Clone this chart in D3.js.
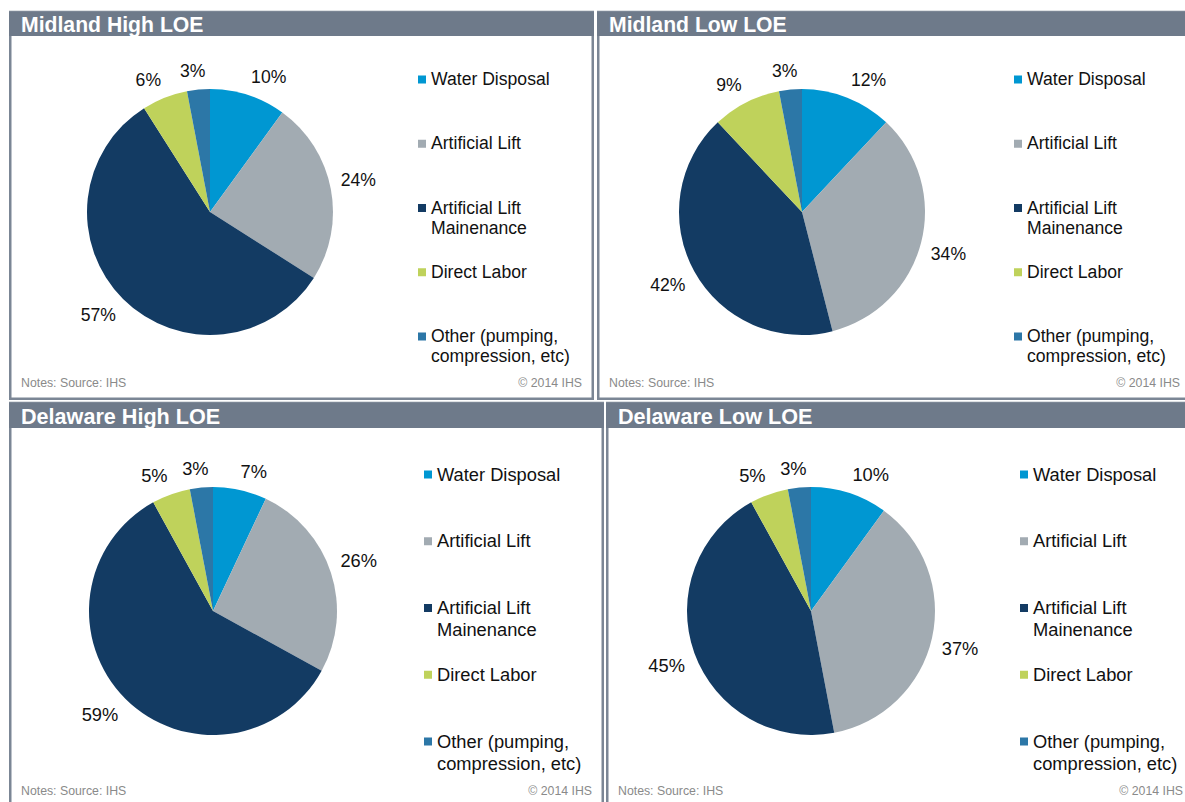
<!DOCTYPE html>
<html>
<head>
<meta charset="utf-8">
<script src="https://cdn.jsdelivr.net/npm/d3@7"></script>
<style>
  body { margin: 0; background: #ffffff; }
  svg { display: block; font-family: "Liberation Sans", Arial, sans-serif; }
</style>
</head>
<body>
<div id="chart"></div>
<script>
// categories, in drawing order (clockwise from 12 o'clock)
const categories = ["Water Disposal", "Artificial Lift", "Artificial Lift Mainenance", "Direct Labor", "Other (pumping, compression, etc)"];
const legendLines = [["Water Disposal"], ["Artificial Lift"], ["Artificial Lift", "Mainenance"], ["Direct Labor"], ["Other (pumping,", "compression, etc)"]];
const sliceColors = ["#0097d2", "#a2abb2", "#133b63", "#bfd25b", "#2c77a7"];

// series values (percent)
const titles = ["Midland High LOE", "Midland Low LOE", "Delaware High LOE", "Delaware Low LOE"];
const midlandHigh = [10, 24, 57, 6, 3];
const midlandLow = [12, 34, 42, 9, 3];
const delawareHigh = [7, 26, 59, 5, 3];
const delawareLow = [10, 37, 45, 5, 3];
const seriesList = [midlandHigh, midlandLow, delawareHigh, delawareLow];

const noteText = "Notes: Source: IHS";
const copyText = "\u00a9 2014 IHS";

const width = 1185, height = 802;
const barColor = "#6e7a8a";
const borderColor = "#7b8695";

// panel layout
const panels = [
  {x: 9,   y: 12,  w: 585, h: 388, bar: 24, cx: 210, cy: 212, r: 123, legX: 431,  legY: 79,  step: 64.25, lineH: 20, fs: 17.6, tfs: 21.2, noteY: 387, copyR: 582},
  {x: 597, y: 12,  w: 595, h: 388, bar: 24, cx: 802, cy: 212, r: 123, legX: 1027, legY: 79,  step: 64.25, lineH: 20, fs: 17.6, tfs: 21.2, noteY: 387, copyR: 1180},
  {x: 9,   y: 403, w: 595, h: 420, bar: 25, cx: 213, cy: 611, r: 124, legX: 437,  legY: 474, step: 66.75, lineH: 22, fs: 18.3, tfs: 21.6, noteY: 795, copyR: 592},
  {x: 606, y: 403, w: 594, h: 420, bar: 25, cx: 811, cy: 611, r: 124, legX: 1033, legY: 474, step: 66.75, lineH: 22, fs: 18.3, tfs: 21.6, noteY: 795, copyR: 1183}
];

const svg = d3.select("#chart")
  .append("svg")
    .attr("width", width)
    .attr("height", height)
    .attr("viewBox", `0 0 ${width} ${height}`);

const pie = d3.pie().sort(null).value(d => d);
const clamp = v => Math.max(-1, Math.min(1, v));

panels.forEach(function(p, k) {
  const g = svg.append("g");

  // frame
  g.append("rect")
    .attr("x", p.x + 1.25)
    .attr("y", p.y)
    .attr("width", p.w - 2.5)
    .attr("height", p.h - 1.25)
    .attr("fill", "#ffffff")
    .attr("stroke", borderColor)
    .attr("stroke-width", 2.5);

  // title bar
  g.append("rect")
    .attr("x", p.x)
    .attr("y", p.y)
    .attr("width", p.w)
    .attr("height", p.bar)
    .attr("fill", barColor);
  g.append("text")
    .attr("x", p.x + 12)
    .attr("y", p.y + p.bar - 4.5)
    .attr("fill", "#ffffff")
    .style("font-weight", "bold")
    .style("font-size", p.tfs + "px")
    .text(titles[k]);

  // pie
  const arc = d3.arc().innerRadius(0).outerRadius(p.r);
  const arcs = pie(seriesList[k]);
  const pg = g.append("g").attr("transform", `translate(${p.cx},${p.cy})`);
  pg.selectAll("path")
    .data(arcs)
    .join("path")
      .attr("d", arc)
      .attr("fill", (d, i) => sliceColors[i]);

  // outside-end percent labels
  pg.selectAll("text")
    .data(arcs)
    .join("text")
      .attr("text-anchor", "middle")
      .attr("dominant-baseline", "central")
      .style("font-size", p.fs + "px")
      .attr("fill", "#111111")
      .text(d => d.data + "%")
      .each(function(d) {
        const w = this.getComputedTextLength();
        const hgt = p.fs;
        const mid = (d.startAngle + d.endAngle) / 2;
        const s = Math.sin(mid), c = Math.cos(mid);
        const rr = p.r + 10;
        const x = s * rr + (w / 2) * clamp(s * 4);
        const y = -c * rr - (hgt / 2) * clamp(c * 4);
        d3.select(this).attr("x", x).attr("y", y);
      });

  // legend
  const lg = g.append("g");
  legendLines.forEach(function(lines, i) {
    const y = p.legY + i * p.step;
    lg.append("rect")
      .attr("x", p.legX - 13)
      .attr("y", y - 3.5)
      .attr("width", 8)
      .attr("height", 8)
      .attr("fill", sliceColors[i]);
    lines.forEach(function(line, j) {
      lg.append("text")
        .attr("x", p.legX)
        .attr("y", y + j * p.lineH)
        .attr("dominant-baseline", "central")
        .style("font-size", p.fs + "px")
        .attr("fill", "#111111")
        .text(line);
    });
  });

  // notes
  g.append("text")
    .attr("x", p.x + 12)
    .attr("y", p.noteY)
    .style("font-size", "12.3px")
    .attr("fill", "#8a8a8a")
    .text(noteText);
  g.append("text")
    .attr("x", p.copyR)
    .attr("y", p.noteY)
    .attr("text-anchor", "end")
    .style("font-size", "12.3px")
    .attr("fill", "#8a8a8a")
    .text(copyText);
});
</script>
</body>
</html>
